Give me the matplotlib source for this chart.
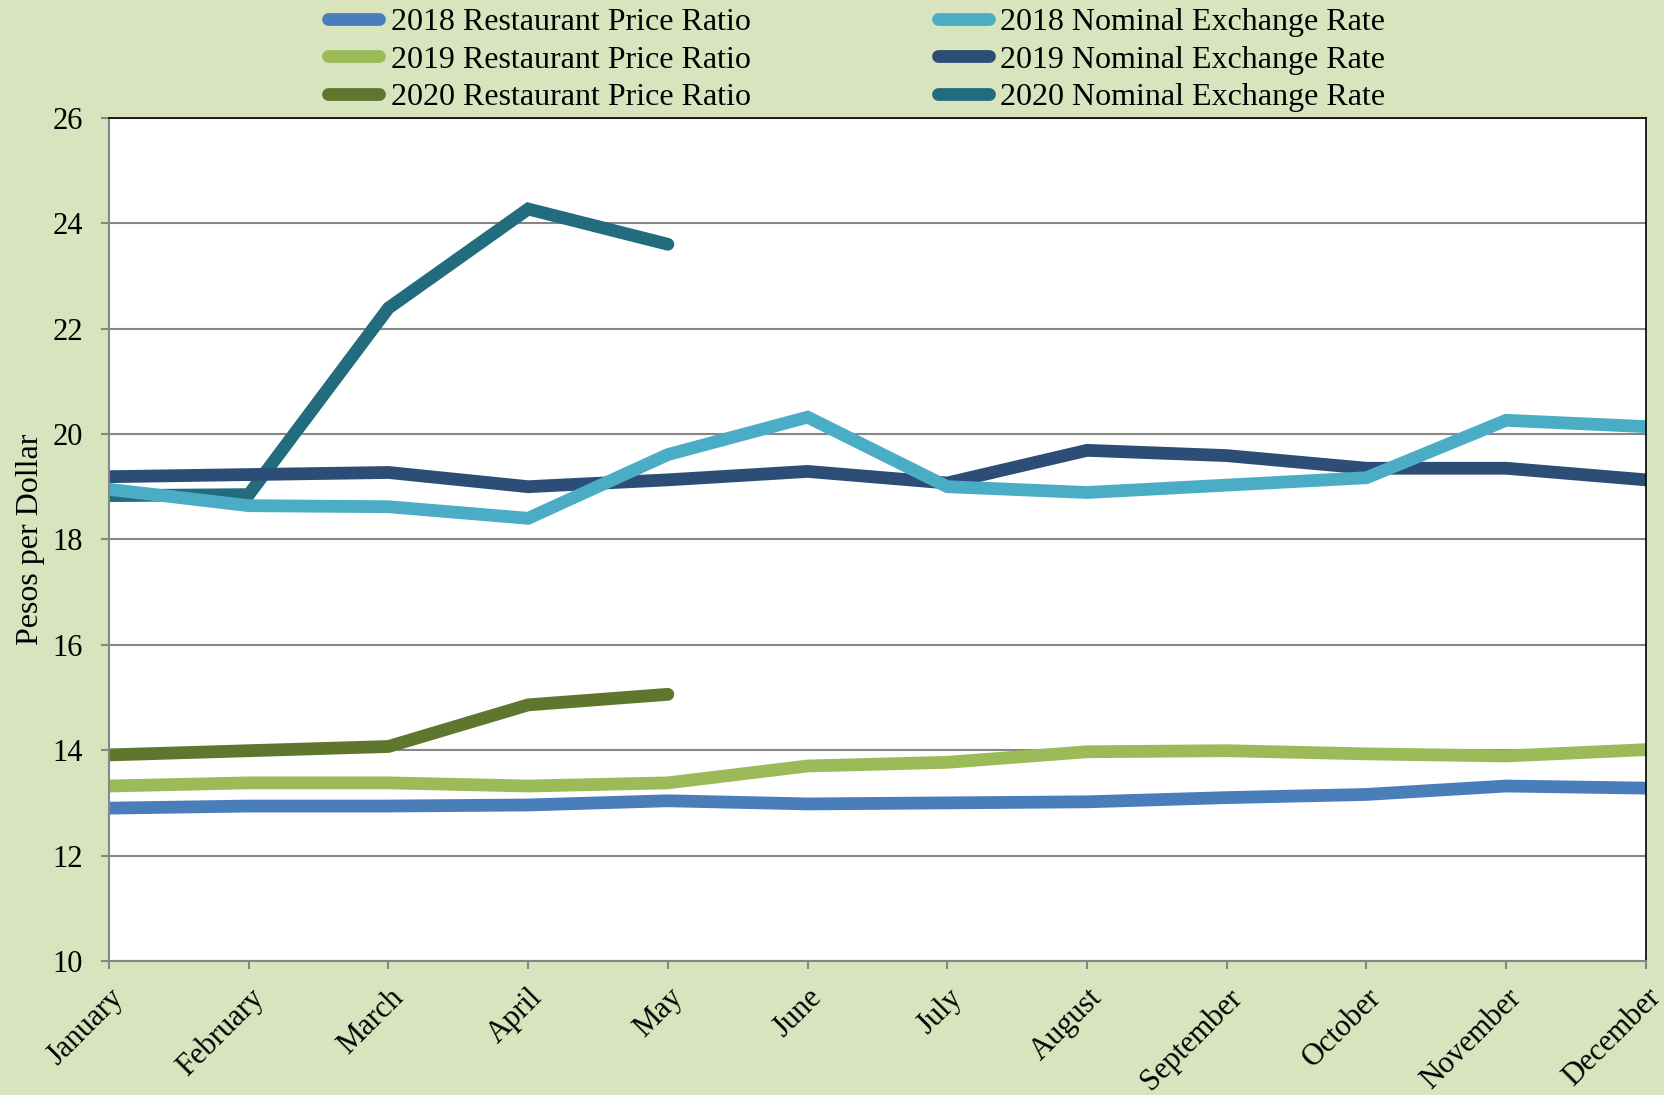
import matplotlib.pyplot as plt

MONTHS = ["January", "February", "March", "April", "May", "June", "July",
          "August", "September", "October", "November", "December"]

# values (pesos per dollar)
rpr_2018 = [12.90, 12.94, 12.94, 12.96, 13.04, 12.98, 13.00, 13.02, 13.10, 13.16, 13.32, 13.28]
rpr_2019 = [13.32, 13.38, 13.38, 13.32, 13.38, 13.70, 13.77, 13.97, 13.99, 13.93, 13.89, 14.01]
rpr_2020 = [13.91, 13.99, 14.07, 14.86, 15.06]
ner_2018 = [18.95, 18.64, 18.62, 18.40, 19.61, 20.32, 19.00, 18.89, 19.03, 19.17, 20.26, 20.14]
ner_2019 = [19.19, 19.23, 19.27, 19.00, 19.13, 19.29, 19.07, 19.69, 19.59, 19.35, 19.35, 19.13]
ner_2020 = [18.83, 18.85, 22.39, 24.27, 23.60]

SERIES = [
    ("2018 Restaurant Price Ratio", rpr_2018, "#4a7ebb"),
    ("2019 Restaurant Price Ratio", rpr_2019, "#9bbb59"),
    ("2020 Restaurant Price Ratio", rpr_2020, "#5e762e"),
    ("2018 Nominal Exchange Rate", ner_2018, "#4bacc6"),
    ("2019 Nominal Exchange Rate", ner_2019, "#2c4d75"),
    ("2020 Nominal Exchange Rate", ner_2020, "#236c7e"),
]

plt.rcParams["font.family"] = ["Liberation Serif", "DejaVu Serif"]

bg = "#d7e4bd"
fig = plt.figure(figsize=(16.65, 10.95), dpi=100, facecolor=bg)
ax = fig.add_axes([0.0655, 0.1224, 0.923, 0.770])
ax.set_facecolor("white")

x = list(range(len(MONTHS)))
# draw in reverse so 2018 restaurant series sits on top like the original
handles = {}
for label, vals, color in reversed(SERIES):
    line, = ax.plot(x[:len(vals)], vals, color=color, lw=9.2, label=label,
                    solid_capstyle="round", solid_joinstyle="miter")
    handles[label] = line

ax.set_xlim(0, 11)
ax.set_ylim(10, 26)
ax.set_yticks(range(10, 27, 2))
ax.yaxis.grid(True, color="#868686", lw=1.5)
ax.set_axisbelow(True)

ax.set_xticks(x)
ax.set_xticklabels(MONTHS, rotation=45, ha="right", rotation_mode="anchor")
ax.tick_params(axis="both", labelsize=22, color="#868686", width=1.5, length=6)
ax.tick_params(axis="x", pad=10)
ax.tick_params(axis="y", pad=13)

for side in ["left", "bottom"]:
    ax.spines[side].set_color("#868686")
    ax.spines[side].set_linewidth(1.5)
for side in ["top", "right"]:
    ax.spines[side].set_color("black")
    ax.spines[side].set_linewidth(1.2)

ax.set_ylabel("Pesos per Dollar", fontsize=23, labelpad=5)

leg = fig.legend([handles[s[0]] for s in SERIES], [s[0] for s in SERIES],
                 ncol=2, loc="upper center", bbox_to_anchor=(0.5145, 1.019),
                 frameon=False, fontsize=23, handlelength=1.6, handletextpad=0.35,
                 columnspacing=5.85, labelspacing=0.25)

fig.savefig("out.png", dpi=100, facecolor=bg)
